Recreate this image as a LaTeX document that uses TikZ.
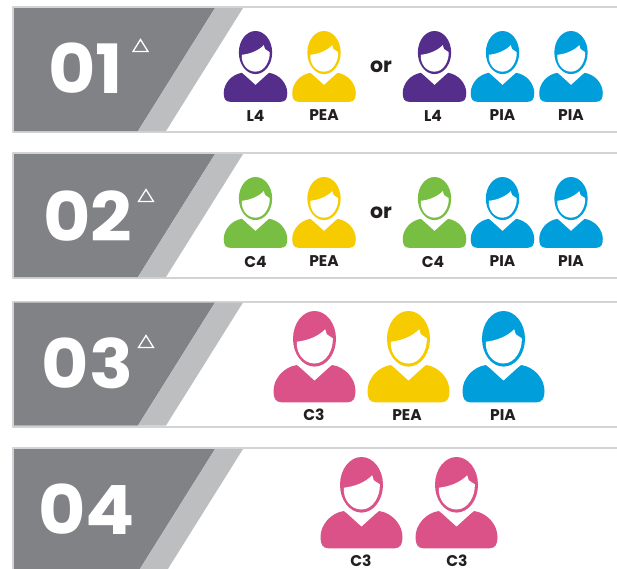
\documentclass[tikz,border=0pt]{standalone}
\usepackage{fontspec}
\setmainfont{Poppins}
\newfontface\numberfont[FakeStretch=1.07]{Poppins Bold}
\definecolor{darkgrey}{HTML}{808285}
\definecolor{lightgrey}{HTML}{BCBEC0}
\definecolor{framegrey}{HTML}{D1D3D4}
\definecolor{labelink}{HTML}{231F20}
\definecolor{purplerole}{HTML}{552E8C}
\definecolor{yellowrole}{HTML}{F6CB00}
\definecolor{bluerole}{HTML}{009FDC}
\definecolor{greenrole}{HTML}{78BE43}
\definecolor{pinkrole}{HTML}{DB5288}
\tikzset{
  number/.style={text=white,font=\numberfont\fontsize{68bp}{68bp}\selectfont,inner sep=0pt},
  role/.style={text=labelink,font=\bfseries\fontsize{15.5bp}{15.5bp}\selectfont,inner sep=0pt},
  either/.style={text=labelink,font=\bfseries\fontsize{20.5bp}{20.5bp}\selectfont,inner sep=0pt},
  mark triangle/.style={draw=white,line width=1.3bp,line join=miter},
  small person/.style={scale=.775},
  panel/.pic={
    \fill [white] (14bp,-1bp) rectangle (604bp,-125bp);
    \draw [framegrey,line width=2bp] (604bp,0bp) -- (0bp,0bp) -- (0bp,-125bp) -- (604bp,-125bp);
    \fill [darkgrey] (1bp,-1bp) -- (202bp,-1bp) -- (125bp,-124bp) -- (1bp,-124bp) -- cycle;
    \fill [lightgrey] (202bp,-1bp) -- (230bp,-1bp) -- (153bp,-124bp) -- (125bp,-124bp) -- cycle;
  },
  person/.pic={
    \fill [#1] (0bp,-27.8bp) ellipse (21.5bp and 27.8bp);
    \fill [white] (-17.7bp,-30.7bp) .. controls (-6bp,-29.5bp) and (4bp,-25bp) .. (10.7bp,-18.3bp)
      -- (12.3bp,-23.3bp) -- (18.3bp,-27.3bp)
      .. controls (19bp,-38bp) and (12bp,-52.5bp) .. (0bp,-52.5bp)
      .. controls (-11bp,-52.5bp) and (-18.5bp,-42bp) .. (-17.7bp,-30.7bp) -- cycle;
    \fill [#1] (-17.7bp,-54bp) -- (-14bp,-57bp) -- (0bp,-69.7bp) -- (14bp,-57bp) -- (17.7bp,-54bp)
      .. controls (31bp,-56bp) and (41bp,-68bp) .. (41bp,-80bp)
      .. controls (41bp,-87bp) and (39bp,-91.3bp) .. (33bp,-91.3bp)
      -- (-33bp,-91.3bp)
      .. controls (-39bp,-91.3bp) and (-41bp,-87bp) .. (-41bp,-80bp)
      .. controls (-41bp,-68bp) and (-31bp,-56bp) .. (-17.7bp,-54bp) -- cycle;
  },
}
\begin{document}
\begin{tikzpicture}[>=latex,line join=bevel,]
\path [use as bounding box,clip] (0bp,0bp) rectangle (617bp,-569bp);
%%
\pic at (13bp,-7bp) {panel};
  \pic at (13bp,-153bp) {panel};
  \pic at (13bp,-301.5bp) {panel};
  \pic at (13bp,-448bp) {panel};
%
\node (number_1) at (85.5bp,-68.5bp) [number] {01};
  \node (number_2) at (87.5bp,-216bp) [number] {02};
  \node (number_3) at (87.5bp,-363bp) [number] {03};
  \node (number_4) at (86.5bp,-509bp) [number] {04};
  \draw [mark triangle] (140.5bp,-39.5bp) -- (148bp,-51.5bp) -- (133bp,-51.5bp) -- cycle;
  \draw [mark triangle] (146bp,-189.5bp) -- (153.5bp,-201.5bp) -- (138.5bp,-201.5bp) -- cycle;
  \draw [mark triangle] (146bp,-335.5bp) -- (153.5bp,-347.5bp) -- (138.5bp,-347.5bp) -- cycle;
%
\pic [small person] at (255.5bp,-31bp) {person=purplerole};
  \pic [small person] at (324bp,-31bp) {person=yellowrole};
  \pic [small person] at (434.5bp,-31bp) {person=purplerole};
  \pic [small person] at (502.5bp,-31bp) {person=bluerole};
  \pic [small person] at (571bp,-31bp) {person=bluerole};
  \node (either_1) at (381bp,-66.5bp) [either] {or};
  \node (role_1a) at (255.5bp,-115.5bp) [role] {L4};
  \node (role_1b) at (324bp,-115.5bp) [role] {PEA};
  \node (role_1c) at (433bp,-115.5bp) [role] {L4};
  \node (role_1d) at (502.5bp,-115.5bp) [role] {PIA};
  \node (role_1e) at (571bp,-115.5bp) [role] {PIA};
%
\pic [small person] at (255.5bp,-177bp) {person=greenrole};
  \pic [small person] at (324bp,-177bp) {person=yellowrole};
  \pic [small person] at (434.5bp,-177bp) {person=greenrole};
  \pic [small person] at (502.5bp,-177bp) {person=bluerole};
  \pic [small person] at (571bp,-177bp) {person=bluerole};
  \node (either_2) at (381bp,-212.5bp) [either] {or};
  \node (role_2a) at (255.5bp,-261.5bp) [role] {C4};
  \node (role_2b) at (324bp,-261.5bp) [role] {PEA};
  \node (role_2c) at (433bp,-261.5bp) [role] {C4};
  \node (role_2d) at (502.5bp,-261.5bp) [role] {PIA};
  \node (role_2e) at (571bp,-261.5bp) [role] {PIA};
%
\pic at (314.5bp,-311bp) {person=pinkrole};
  \pic at (408.5bp,-311bp) {person=yellowrole};
  \pic at (503.5bp,-311bp) {person=bluerole};
  \node (role_3a) at (314bp,-415bp) [role] {C3};
  \node (role_3b) at (407bp,-415bp) [role] {PEA};
  \node (role_3c) at (503bp,-415bp) [role] {PIA};
%
\pic at (361.5bp,-457bp) {person=pinkrole};
  \pic at (456.5bp,-457bp) {person=pinkrole};
  \node (role_4a) at (361bp,-560.5bp) [role] {C3};
  \node (role_4b) at (457bp,-560.5bp) [role] {C3};
%
\end{tikzpicture}
\end{document}
